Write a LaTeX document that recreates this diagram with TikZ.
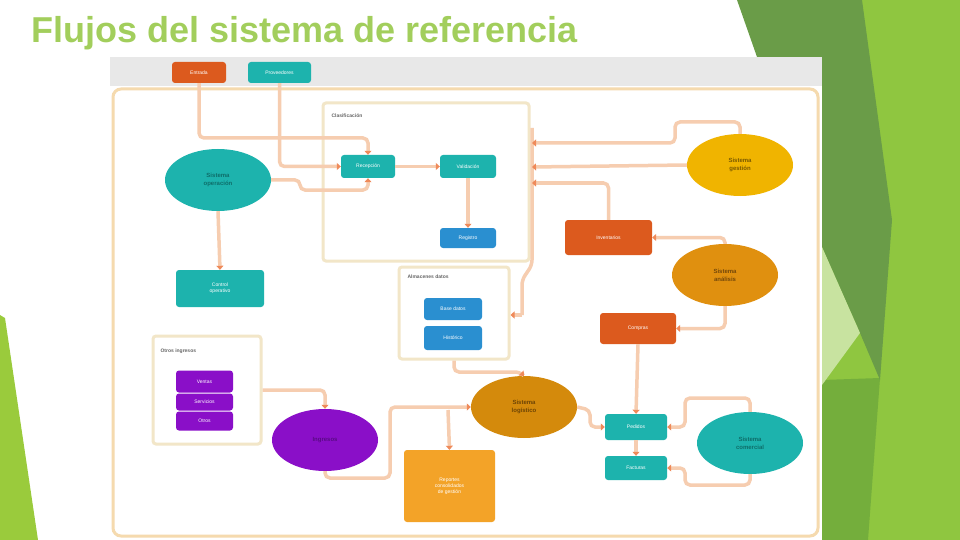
\documentclass[tikz,border=0pt]{standalone}
\usepackage{fontspec}
\setmainfont{Liberation Sans}
\usetikzlibrary{shapes.geometric,arrows.meta}
\definecolor{conncol}{HTML}{F6CDB0}
\definecolor{arrcol}{HTML}{EF8A5A}
\definecolor{tealc}{HTML}{1DB3AD}
\definecolor{tealtxt}{HTML}{0E6E6A}
\definecolor{orgdark}{HTML}{DC5A1E}
\definecolor{bluec}{HTML}{2A8FD0}
\definecolor{purpc}{HTML}{8A0FC8}
\definecolor{purptxt}{HTML}{5A0A86}
\definecolor{grpc}{HTML}{F2E6C8}
\definecolor{framec}{HTML}{F5DAAE}
\definecolor{titlec}{HTML}{A2CE5C}
\definecolor{greenA}{HTML}{8FC640}
\definecolor{greenB}{HTML}{74AE3C}
\definecolor{greenC}{HTML}{6A9C48}
\definecolor{greenD}{HTML}{C8E3A0}
\definecolor{greenE}{HTML}{9ACB3C}
\definecolor{barc}{HTML}{E8E8E8}
\definecolor{ochre}{HTML}{D48A0C}
\definecolor{ochretxt}{HTML}{6E4505}
\definecolor{yellc}{HTML}{F0B400}
\definecolor{yelltxt}{HTML}{7A5A00}
\definecolor{orgc}{HTML}{E0900F}
\definecolor{orgtxt}{HTML}{74480A}
\definecolor{lorg}{HTML}{F3A328}
\tikzset{
  rbox/.style={rectangle, rounded corners=3pt, inner sep=0pt, text=white, align=center,
    font=\fontsize{5}{6}\selectfont},
  ell/.style={ellipse, inner sep=0pt, minimum width=106pt, minimum height=62pt, align=center,
    font=\fontsize{6}{8}\selectfont\bfseries},
  grp/.style={rectangle, rounded corners=3pt, draw=grpc, line width=3pt, fill=white},
  glabel/.style={font=\fontsize{5}{6}\selectfont\bfseries, text=gray!80!black, anchor=west},
  conn/.style={draw=conncol, line width=3.5pt, rounded corners=5pt},
  arr/.style={-{Triangle[color=arrcol,length=4pt,width=7pt]}},
}
\begin{document}
\begin{tikzpicture}[x=1pt,y=-1pt]
\useasboundingbox (0,0) rectangle (960,540);
% background greens
\fill[greenA] (822,0) -- (960,0) -- (960,540) -- (822,540) -- cycle;
\fill[greenB] (822,380) -- (880,378) -- (868,540) -- (822,540) -- cycle;
\fill[greenC] (737,0) -- (862,0) -- (892,220) -- (880,380) -- (860,333) -- (822,247) -- (822,57) -- (757,57) -- cycle;
\fill[greenD] (822,247) -- (860,333) -- (822,385) -- cycle;
\fill[greenE] (0,315) -- (5,318) -- (38,540) -- (0,540) -- cycle;
% title
\node[anchor=west, text=titlec, font=\fontsize{36}{40}\selectfont\bfseries] (title) at (28,33) {Flujos del sistema de referencia};
% screenshot
\fill[barc] (110,57) rectangle (822,86);
\fill[white] (110,86) rectangle (822,540);
\draw[framec, line width=3pt, rounded corners=8pt] (113,89) rectangle (818,536);
% header boxes
\node[rbox, fill=orgdark, minimum width=54pt, minimum height=21pt] (h1) at (199,72.5) {Entrada};
\node[rbox, fill=tealc, minimum width=63pt, minimum height=21pt] (h2) at (279.5,72.5) {Proveedores};
% group boxes
\node[grp, minimum width=206pt, minimum height=158pt] (gA) at (426,182) {};
\node[glabel] (gAl) at (328,116) {Clasificación};
\node[grp, minimum width=110pt, minimum height=92pt] (gB) at (454,313) {};
\node[glabel] (gBl) at (404,277) {Almacenes datos};
\node[grp, minimum width=108pt, minimum height=108pt] (gC) at (207,390) {};
\node[glabel] (gCl) at (157,351) {Otros ingresos};
% nodes in group A
\node[rbox, fill=tealc, minimum width=54pt, minimum height=23pt] (A) at (368,166.5) {Recepción};
\node[rbox, fill=tealc, minimum width=56pt, minimum height=23pt] (B) at (468,166.5) {Validación};
\node[rbox, fill=bluec, minimum width=56pt, minimum height=20pt] (C) at (468,238) {Registro};
% almacenes
\node[rbox, fill=bluec, minimum width=58pt, minimum height=22pt] (D1) at (453,309) {Base datos};
\node[rbox, fill=bluec, minimum width=58pt, minimum height=24pt] (D2) at (453,338) {Histórico};
% otros ingresos
\node[rbox, fill=purpc, minimum width=57pt, minimum height=22pt] (P1) at (204.5,381.5) {Ventas};
\node[rbox, fill=purpc, minimum width=57pt, minimum height=17pt] (P2) at (204.5,402) {Servicios};
\node[rbox, fill=purpc, minimum width=57pt, minimum height=19pt] (P3) at (204.5,421) {Otros};
% ellipses
\node[ell, fill=tealc, text=tealtxt] (E1) at (218,180) {Sistema\\operación};
\node[ell, fill=purpc, text=purptxt] (E2) at (325,440) {Ingresos};
\node[ell, fill=ochre, text=ochretxt] (E3) at (524,407) {Sistema\\logístico};
\node[ell, fill=yellc, text=yelltxt] (E4) at (740,165) {Sistema\\gestión};
\node[ell, fill=orgc, text=orgtxt] (E5) at (725,275) {Sistema\\análisis};
\node[ell, fill=tealc, text=tealtxt] (E6) at (750,443) {Sistema\\comercial};
% other rects
\node[rbox, fill=tealc, minimum width=88pt, minimum height=37pt] (R1) at (220,288.5) {Control\\operativo};
\node[rbox, fill=lorg, minimum width=91pt, minimum height=72pt] (R2) at (449.5,486) {Reportes\\consolidados\\de gestión};
\node[rbox, fill=orgdark, minimum width=87pt, minimum height=35pt] (R3) at (608.5,237.5) {Inventarios};
\node[rbox, fill=orgdark, minimum width=76pt, minimum height=31pt] (R4) at (638,328.5) {Compras};
\node[rbox, fill=tealc, minimum width=62pt, minimum height=26pt] (T1) at (636,427) {Pedidos};
\node[rbox, fill=tealc, minimum width=62pt, minimum height=24pt] (T2) at (636,468) {Facturas};
% coordinates
\coordinate (bt) at (532,128);
\coordinate (bb) at (522,315);
% connectors
\draw[conn, arr] (h1.south) |- (340,138) -| (A.north);
\draw[conn, arr] (h2.south) |- (A.west);
\draw[conn, arr] (E1.east) -| (300,190) -| (A.south);
\draw[conn, arr] (A.east) -- (B.west);
\draw[conn, arr] (B.south) -- (C.north);
\draw[conn, arr] (E1.south) -- (R1.north);
\draw[conn] (bt) -- (532,265) -- (522,280) -- (bb);
\draw[conn, arr] (bb) -- (gB.east |- bb);
\draw[conn, arr] (E4.north) |- (675,122) |- (532,143);
\draw[conn, arr] (E4.west) -- (532,167);
\draw[conn, arr] (R3.north) |- (532,183);
\draw[conn, arr] (E5.north) |- (R3.east);
\draw[conn, arr] (E5.south) |- (R4.east);
\draw[conn, arr] (R4.south) -- (T1.north);
\draw[conn, arr] (E3.east) -- (590,410) |- (T1.west);
\draw[conn, arr] (E6.north) |- (685,398) |- (T1.east);
\draw[conn, arr] (E6.south) |- (685,485) |- (T2.east);
\draw[conn, arr] (T1.south) -- (T2.north);
\draw[conn, arr] (gB.south) |- (520,372) -- (E3.north);
\draw[conn, arr] (gC.east |- 0,390) -| (E2.north);
\draw[conn, arr] (E2.south) |- (390,478) |- (E3.west);
\draw[conn, arr] (448,410) -- (R2.north);
\end{tikzpicture}
\end{document}
